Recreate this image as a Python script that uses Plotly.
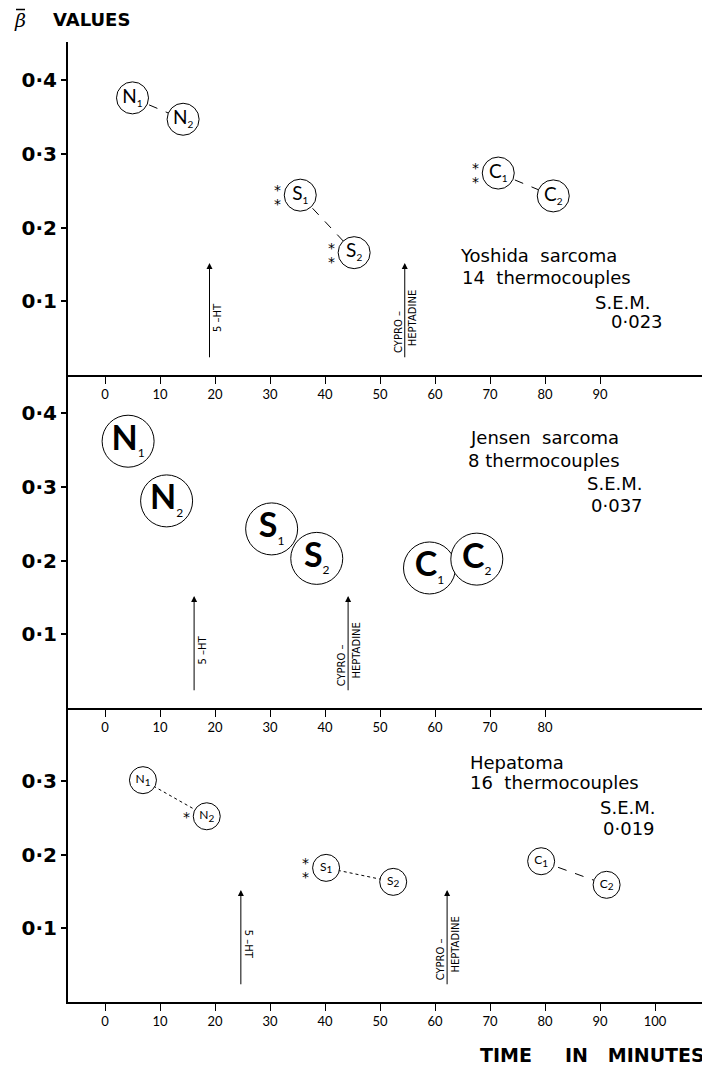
import plotly.graph_objects as go

# ---------------- data ----------------
letters = ["N", "N", "S", "S", "C", "C"]
subs = ["1", "2", "1", "2", "1", "2"]

yoshida_time = [5.0, 14.2, 35.5, 45.3, 71.5, 81.5]
yoshida_beta = [0.376, 0.347, 0.244, 0.166, 0.274, 0.243]
yoshida_stars = [0, 0, 2, 2, 2, 0]

jensen_time = [4.2, 11.2, 30.3, 38.5, 59.0, 67.6]
jensen_beta = [0.362, 0.281, 0.243, 0.203, 0.190, 0.202]
jensen_stars = [0, 0, 0, 0, 0, 0]

hepatoma_time = [6.9, 18.5, 40.2, 52.4, 79.3, 91.2]
hepatoma_beta = [0.301, 0.252, 0.182, 0.163, 0.191, 0.159]
hepatoma_stars = [0, 1, 2, 0, 0, 0]

# drug injection times (minutes)
ht_time = [19.0, 16.2, 24.7]
cypro_time = [54.5, 44.2, 62.2]

panel_names = ["Yoshida  sarcoma", "Jensen  sarcoma", "Hepatoma"]
panel_tc = ["14  thermocouples", "8 thermocouples", "16  thermocouples"]
panel_sem = ["0·023", "0·037", "0·019"]

x_ticks_top = [0, 10, 20, 30, 40, 50, 60, 70, 80, 90]
x_ticks_mid = [0, 10, 20, 30, 40, 50, 60, 70, 80]
x_ticks_bot = [0, 10, 20, 30, 40, 50, 60, 70, 80, 90, 100]
y_ticks_big = [0.1, 0.2, 0.3, 0.4]
y_ticks_small = [0.1, 0.2, 0.3]

# ---------------- layout geometry ----------------
OFF = 8                      # page body margin
W, H = 710 - OFF, 1072 - OFF
ML, MR, MT = 68 - OFF, 0, 42 - OFF
MB = H - (1002 - OFF)
PW, PH = W - ML - MR, H - MT - MB
PPU_Y = 737.0
top_h, mid_h, bot_h = 333, 333, 294
X_RANGE = [-6.727, 110.0]

FONT = "DejaVu Sans"
LFONT = "Lato"

def px_x(px):
    return (px - OFF - ML) / PW

def px_y(py):
    return (H - MB - (py - OFF)) / PH

fig = go.Figure()

panels = [
    dict(t=yoshida_time, b=yoshida_beta, s=yoshida_stars, xa="x", ya="y",
         size=32, fsize=19, ssize=10, bold=False, dashes=["dash", "dash", "dash"], lines=True),
    dict(t=jensen_time, b=jensen_beta, s=jensen_stars, xa="x2", ya="y2",
         size=52, fsize=34, ssize=12, bold=True, dashes=None, lines=False),
    dict(t=hepatoma_time, b=hepatoma_beta, s=hepatoma_stars, xa="x3", ya="y3",
         size=27, fsize=12, ssize=10, bold=False, dashes=["dot", "dot", "dash"], lines=True),
]

for p in panels:
    if p["lines"]:
        for k in range(3):
            i, j = 2 * k, 2 * k + 1
            fig.add_trace(go.Scatter(
                x=[p["t"][i], p["t"][j]], y=[p["b"][i], p["b"][j]],
                xaxis=p["xa"], yaxis=p["ya"], mode="lines",
                line=dict(color="black", width=1, dash=p["dashes"][k]),
                showlegend=False, hoverinfo="skip"))
    if p["bold"]:
        texts = [f"<b>{l}</b><sub><span style='font-size:{p['ssize']}px'>{s}</span></sub>"
                 for l, s in zip(letters, subs)]
    else:
        texts = [f"{l}<sub><span style='font-size:{p['ssize']}px'>{s}</span></sub>"
                 for l, s in zip(letters, subs)]
    fig.add_trace(go.Scatter(
        x=p["t"], y=p["b"], xaxis=p["xa"], yaxis=p["ya"],
        mode="markers+text", text=texts, textposition="middle center",
        textfont=dict(family=LFONT, size=p["fsize"], color="black"),
        marker=dict(symbol="circle", size=p["size"], color="white",
                    line=dict(color="black", width=1)),
        showlegend=False, hoverinfo="skip"))
    # significance stars
    for tt, bb, ns in zip(p["t"], p["b"], p["s"]):
        if ns == 0:
            continue
        shifts = [2] if ns == 1 else [8, -6]
        for ys in shifts:
            fig.add_annotation(x=tt, y=bb, xref=p["xa"], yref=p["ya"], text="*",
                               showarrow=False, xshift=-(p["size"] / 2 + 7), yshift=ys - 3,
                               font=dict(family="DejaVu Sans", size=14, color="black"))

# arrows and their labels
axes = [("x", "y"), ("x2", "y2"), ("x3", "y3")]
for k, (xa, ya) in enumerate(axes):
    for tx in (ht_time[k], cypro_time[k]):
        fig.add_annotation(x=tx, y=0.152, ax=tx, ay=0.022, xref=xa, yref=ya,
                           axref=xa, ayref=ya, text="", showarrow=True,
                           arrowhead=2, arrowsize=1.2, arrowwidth=1, arrowcolor="black")
    ang = 90 if k == 2 else -90
    fig.add_annotation(x=ht_time[k], y=0.078, xref=xa, yref=ya, text="5 –HT",
                       showarrow=False, textangle=ang, xshift=8,
                       font=dict(family=FONT, size=10, color="black"))
    fig.add_annotation(x=cypro_time[k], y=0.058, xref=xa, yref=ya, text="CYPRO –",
                       showarrow=False, textangle=-90, xshift=-7,
                       font=dict(family=FONT, size=10, color="black"))
    fig.add_annotation(x=cypro_time[k], y=0.078, xref=xa, yref=ya, text="HEPTADINE",
                       showarrow=False, textangle=-90, xshift=8,
                       font=dict(family=FONT, size=10, color="black"))

# panel texts (pixel-positioned, reference page coordinates)
text_pos = [
    dict(name=(458, 255), tc=(460, 277), sem=(653, 302), val=(665, 322)),
    dict(name=(468, 437), tc=(466, 460), sem=(645, 483), val=(645, 505)),
    dict(name=(468, 762), tc=(468, 782), sem=(658, 807), val=(657, 828)),
]
for k, tp in enumerate(text_pos):
    fnt = dict(family=FONT, size=18, color="black")
    fig.add_annotation(x=px_x(tp["name"][0]), y=px_y(tp["name"][1]), xref="paper", yref="paper",
                       text=panel_names[k], showarrow=False, xanchor="left", yanchor="middle", font=fnt)
    fig.add_annotation(x=px_x(tp["tc"][0]), y=px_y(tp["tc"][1]), xref="paper", yref="paper",
                       text=panel_tc[k], showarrow=False, xanchor="left", yanchor="middle", font=fnt)
    fig.add_annotation(x=px_x(tp["sem"][0]), y=px_y(tp["sem"][1]), xref="paper", yref="paper",
                       text="S.E.M.", showarrow=False, xanchor="right", yanchor="middle", font=fnt)
    fig.add_annotation(x=px_x(tp["val"][0]), y=px_y(tp["val"][1]), xref="paper", yref="paper",
                       text=panel_sem[k], showarrow=False, xanchor="right", yanchor="middle", font=fnt)

# axis titles
fig.add_annotation(x=px_x(20), y=px_y(20), xref="paper", yref="paper",
                   text="<i>β</i>", showarrow=False, xanchor="center", yanchor="middle",
                   font=dict(family="DejaVu Serif", size=19, color="black"))
fig.add_shape(type="line", xref="paper", yref="paper",
              x0=px_x(16), x1=px_x(25), y0=px_y(9.5), y1=px_y(9.5),
              line=dict(color="black", width=1.5))
fig.add_annotation(x=px_x(51), y=px_y(19), xref="paper", yref="paper",
                   text="<b>VALUES</b>", showarrow=False, xanchor="left", yanchor="middle",
                   font=dict(family=FONT, size=18, color="black"))
fig.add_annotation(x=px_x(707), y=px_y(1055), xref="paper", yref="paper",
                   text="<b>TIME     IN   MINUTES</b>", showarrow=False, xanchor="right", yanchor="middle",
                   font=dict(family=FONT, size=19, color="black"))

# axes
d_bot = bot_h / PH
d_mid = (bot_h + mid_h) / PH
xcommon = dict(range=X_RANGE, showline=True, linecolor="black", linewidth=1.5,
               ticks="outside", ticklen=7, tickwidth=1, tickcolor="black",
               showgrid=False, zeroline=False, automargin=False,
               tickfont=dict(family=LFONT, size=13, color="black"))
ycommon = dict(showline=True, linecolor="black", linewidth=2, ticks="outside",
               ticklen=5, tickwidth=1.5, tickcolor="black", showgrid=False, zeroline=False,
               automargin=False,
               tickfont=dict(family=FONT, size=20, color="black", weight="bold"))

def fmt(v):
    return f"{v:.1f}".replace(".", "·")

fig.update_layout(
    width=W, height=H,
    margin=dict(l=ML, r=MR, t=MT, b=MB),
    paper_bgcolor="white", plot_bgcolor="white",
    showlegend=False,
    xaxis=dict(xcommon, anchor="y", tickvals=x_ticks_top, ticktext=[str(v) for v in x_ticks_top]),
    xaxis2=dict(xcommon, anchor="y2", tickvals=x_ticks_mid, ticktext=[str(v) for v in x_ticks_mid]),
    xaxis3=dict(xcommon, anchor="y3", tickvals=x_ticks_bot, ticktext=[str(v) for v in x_ticks_bot]),
    yaxis=dict(ycommon, anchor="x", domain=[d_mid, 1.0], range=[0, top_h / PPU_Y],
               tickvals=y_ticks_big, ticktext=[fmt(v) for v in y_ticks_big]),
    yaxis2=dict(ycommon, anchor="x2", domain=[d_bot, d_mid], range=[0, mid_h / PPU_Y],
                tickvals=y_ticks_big, ticktext=[fmt(v) for v in y_ticks_big]),
    yaxis3=dict(ycommon, anchor="x3", domain=[0, d_bot], range=[0, bot_h / PPU_Y],
                tickvals=y_ticks_small, ticktext=[fmt(v) for v in y_ticks_small]),
)

fig.write_html("out.html")
